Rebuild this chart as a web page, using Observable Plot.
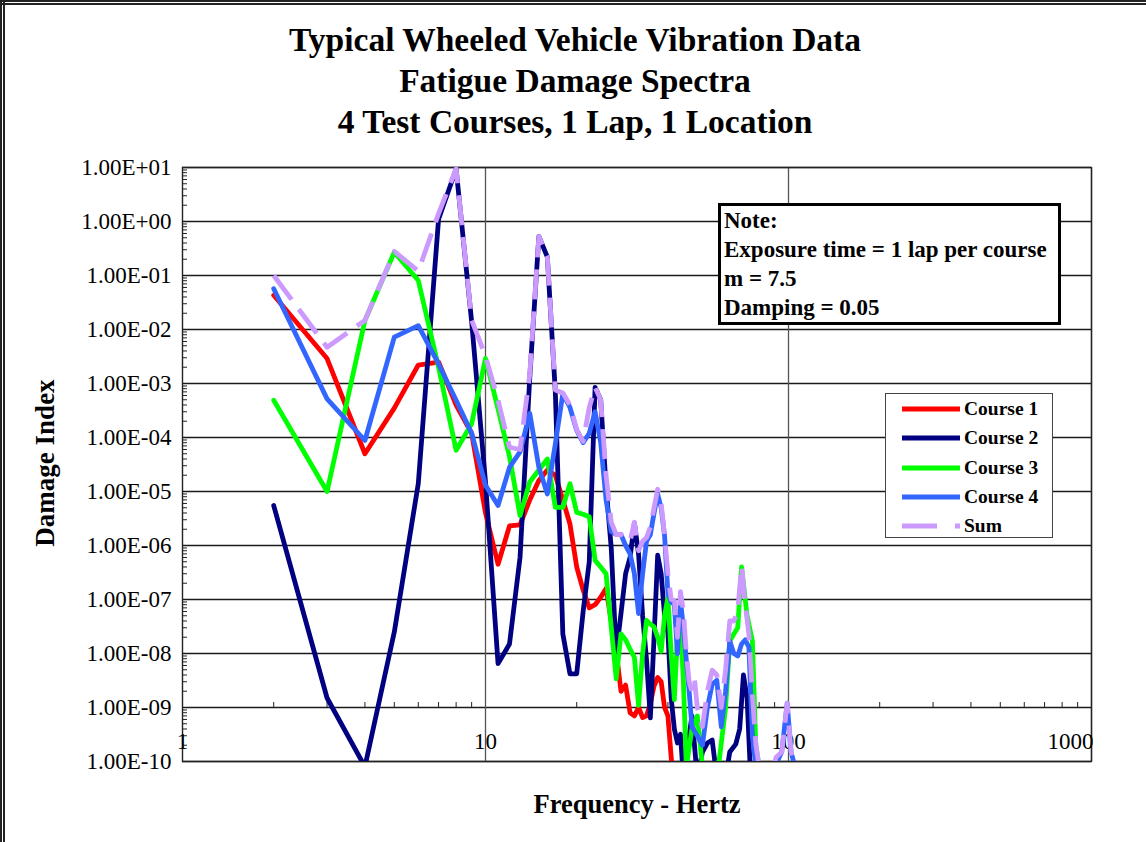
<!DOCTYPE html>
<html><head><meta charset="utf-8">
<script src="https://cdn.jsdelivr.net/npm/d3@7"></script>
<script src="https://cdn.jsdelivr.net/npm/@observablehq/plot@0.6"></script>
<style>
body{margin:0;background:#fff;}
#wrap{position:relative;width:1146px;height:842px;overflow:hidden;background:#fff;font-family:"Liberation Serif","Times New Roman",serif;color:#000;}
#bt{position:absolute;left:0;top:0;width:1146px;height:0;border-top:5px double #222;}
#bl{position:absolute;left:0;top:0;width:0;height:842px;border-left:5px double #222;}
#title{position:absolute;left:0;top:19px;width:1150px;text-align:center;font-weight:bold;font-size:33.5px;line-height:41px;}
#chart{position:absolute;left:0;top:150px;}
#chart svg{display:block;overflow:visible;}
#ylab{position:absolute;left:45px;top:463px;transform:translate(-50%,-50%) rotate(-90deg);font-weight:bold;font-size:27px;white-space:nowrap;}
#xlab{position:absolute;left:637px;top:804px;transform:translate(-50%,-50%);font-weight:bold;font-size:26.5px;white-space:nowrap;}
#note{position:absolute;left:718px;top:203px;width:334px;height:116px;border:3px solid #000;background:#fff;font-weight:bold;font-size:23px;line-height:29px;padding:0 0 0 3px;box-sizing:content-box;}
#legend{position:absolute;left:885px;top:393px;width:166px;height:143px;border:1px solid #444;background:#fff;}
.lrow{position:absolute;left:0;height:22px;display:flex;align-items:center;}
.lrow span{font-weight:bold;font-size:19.5px;margin-left:4px;}
</style></head><body>
<div id="wrap">
  <div id="bt"></div><div id="bl"></div>
  <div id="title"></div>
  <div id="chart"></div>
  <div id="ylab"></div>
  <div id="xlab"></div>
  <div id="note"></div>
  <div id="legend"></div>
</div>
<script>
// ---- text ----
const titleLines = ["Typical Wheeled Vehicle Vibration Data", "Fatigue Damage Spectra", "4 Test Courses, 1 Lap, 1 Location"];
const yTitle = "Damage Index";
const xTitle = "Frequency - Hertz";
const noteLines = ["Note:", "Exposure time = 1 lap per course", "m = 7.5", "Damping = 0.05"];

// ---- axes ----
const xTicks = [1, 10, 100];
const xTickLast = [1000];
const xGrid = [10, 100, 1000];
const yTicks = [1e-10, 1e-9, 1e-8, 1e-7, 1e-6, 1e-5, 1e-4, 1e-3, 1e-2, 1e-1, 1e0, 1e1];
const yTickLabels = ["1.00E-10", "1.00E-09", "1.00E-08", "1.00E-07", "1.00E-06", "1.00E-05", "1.00E-04", "1.00E-03", "1.00E-02", "1.00E-01", "1.00E+00", "1.00E+01"];

// ---- series ----
const seriesNames = ["Course 1", "Course 2", "Course 3", "Course 4", "Sum"];
const seriesColors = ["#ff0000", "#000080", "#00ff00", "#3366ff", "#cc99ff"];

const freq1 = [2,3,4,5,6,7,8,9,10,11,12,13,14,15,16,17,18,19,20,21,22,23,24,25,26,27,28,29,30,31,32,33,34,35,36,37,38,39,40,41,42];
const dmg1 = [4.3e-2,2.9e-3,5e-5,3.5e-4,2.2e-3,2.5e-3,4e-4,1.2e-4,4e-6,4.5e-7,2.3e-6,2.4e-6,7e-6,1.6e-5,2.5e-5,2e-5,7e-6,2.5e-6,4e-7,1.5e-7,7e-8,8e-8,1.1e-7,1.6e-7,4e-8,1.1e-8,2e-9,2.6e-9,8e-10,7e-10,1e-9,6.5e-10,7e-10,1.2e-9,2.5e-9,3.6e-9,3e-9,1e-9,7e-10,1.2e-10,3e-11];

const freq2 = [2,3,4,5,6,7,8,9,10,11,12,13,14,15,16,17,18,19,20,21,22,23,24,25,26,27,28,29,30,31,32,33,34,35,36,37,38,39,40,41,42,43,44,45,48,50,52,54,56,58,62,64,67,69,71,73,75];
const dmg2 = [5.5e-6,1.5e-9,8e-11,2.5e-8,1.4e-5,1.1,9.4,1.4e-2,1.5e-5,6.5e-9,1.5e-8,6e-7,1.3e-3,0.53,0.22,7e-4,2.3e-8,4.2e-9,4.2e-9,6e-8,5e-7,8.5e-4,5e-4,1.2e-5,9e-7,1e-8,5.5e-8,3e-7,6e-7,2.6e-6,7e-7,5e-8,7.6e-9,6.4e-10,2e-8,6.6e-7,3e-7,5e-8,2.4e-8,1.5e-9,4e-10,2.2e-10,3.2e-10,5e-11,7e-10,5e-11,1.5e-10,2.2e-10,2.5e-10,5e-11,5e-11,1.5e-10,2.1e-10,4e-10,4e-9,1.5e-9,5e-11];

const freq3 = [2,3,4,5,6,7,8,9,10,11,12,13,14,15,16,17,18,19,20,21,22,23,24,25,26,27,28,29,30,31,32,33,34,35,36,37,38,39,40,41,42,43,44,45,46,48,50,52,56,59,62,64,66,68,70,73,76,78,80];
const dmg3 = [4.9e-4,1e-5,1.47e-2,0.27,8.1e-2,2e-3,5.8e-5,1.8e-4,2.9e-3,3.4e-4,4.4e-5,3.6e-6,1.5e-5,2.5e-5,4e-5,5.1e-6,5.1e-6,1.4e-5,4.1e-6,3.8e-6,3.4e-6,5.3e-7,4e-7,3e-7,3.1e-8,3.4e-9,2.3e-8,1.8e-8,1.2e-8,8.5e-9,1.1e-9,1e-8,4.1e-8,3.5e-8,3.1e-8,2e-8,1.1e-8,5e-8,1.1e-7,1e-8,1.4e-9,2e-8,4e-8,3e-9,8e-11,4e-10,7e-10,8e-11,8e-11,1e-10,1e-9,1.7e-8,2.3e-8,3e-8,4e-7,5e-8,1.7e-8,2e-10,8e-11];

const freq4 = [2,3,4,5,6,7,8,9,10,11,12,13,14,15,16,17,18,19,20,21,22,23,24,25,26,27,28,29,30,31,32,33,34,35,36,37,38,39,40,41,42,43,44,45,46,47,48,50,52,54,56,58,60,62,64,66,68,70,72,74,76,78,90,95,99,102,105];
const dmg4 = [5.7e-2,5.2e-4,8.8e-5,7.2e-3,1.18e-2,2.3e-3,4.9e-4,1.2e-4,1.3e-5,5.5e-6,2.8e-5,5.4e-5,2.8e-4,2.8e-5,9e-6,7.6e-5,6.5e-4,3.6e-4,1.35e-4,8e-5,1.2e-4,3e-4,8e-5,7e-6,1.8e-6,1.6e-6,1.6e-6,1e-6,7e-7,3e-7,5.5e-8,3e-7,1.2e-6,1.6e-6,4e-6,9e-6,5e-6,1.5e-6,1.3e-7,9e-8,8e-8,1e-8,9.6e-8,3e-8,7.6e-9,2e-9,4.4e-10,3e-10,2e-10,1e-9,2.7e-9,3.2e-9,4.4e-10,2e-9,1.7e-8,1e-8,9e-9,1.5e-8,1.8e-8,1.3e-8,3e-10,8e-11,8e-11,1.5e-10,1.2e-9,1.5e-10,8e-11];

const freq5 = [2,3,4,5,6,7,8,9,10,11,12,13,14,15,16,17,18,19,20,21,22,23,24,25,26,27,28,29,30,31,32,33,34,35,36,37,38,39,40,41,42,43,44,45,46,47,48,49,50,52,54,56,58,60,62,64,66,68,70,72,74,76,78,80,85,91,95,99,102,105];
const dmg5 = [0.1,4.7e-3,1.47e-2,0.28,0.12,1.4,9.5,1.5e-2,3.2e-3,4.9e-4,6.6e-5,6e-5,1.5e-3,0.53,0.22,7.6e-4,6.7e-4,4e-4,1.4e-4,8.5e-5,3.6e-4,8.5e-4,5e-4,2e-5,2.7e-6,1.6e-6,1.6e-6,1.3e-6,1.2e-6,2.7e-6,8e-7,1.2e-6,1.4e-6,2.2e-6,5e-6,1.1e-5,6e-6,1.5e-6,3e-7,1e-7,9.6e-8,2e-8,1.4e-7,6e-8,1e-8,3e-9,2e-9,3.2e-9,1e-9,4.4e-10,2e-9,4.9e-9,4e-9,1e-9,5e-9,4e-8,4e-8,6e-8,4.2e-7,8e-8,2.3e-8,1.8e-9,2.1e-10,8e-11,3e-11,1.2e-10,1.5e-10,1.2e-9,1.5e-10,8e-11];

const freqs = [freq1, freq2, freq3, freq4, freq5];
const dmgs = [dmg1, dmg2, dmg3, dmg4, dmg5];
const sumDash = "30,12";

// ---- HTML text ----
document.getElementById("title").innerHTML = titleLines.join("<br>");
document.getElementById("ylab").textContent = yTitle;
document.getElementById("xlab").textContent = xTitle;
document.getElementById("note").innerHTML = noteLines.map(s => `<div>${s}</div>`).join("");

// legend
const legend = document.getElementById("legend");
seriesNames.forEach((name, i) => {
  const row = document.createElement("div");
  row.className = "lrow";
  row.style.top = (4 + i * 29.3) + "px";
  row.style.left = "16px";
  const dash = i === 4 ? `stroke-dasharray="35,18"` : "";
  row.innerHTML = `<svg width="58" height="10"><line x1="0" y1="5" x2="58" y2="5" stroke="${seriesColors[i]}" stroke-width="5" ${dash}/></svg><span>${name}</span>`;
  legend.appendChild(row);
});

// ---- plot ----
const yMinor = [];
for (let e = -10; e < 1; e++) for (let k = 2; k <= 9; k++) yMinor.push(k * Math.pow(10, e));
const xMinor = [];
for (let e = 0; e < 3; e++) for (let k = 2; k <= 9; k++) xMinor.push(k * Math.pow(10, e));

const lineMarks = seriesNames.map((name, i) =>
  Plot.line(freqs[i].map((f, j) => ({f, d: dmgs[i][j]})), {
    x: "f", y: "d",
    stroke: seriesColors[i],
    strokeWidth: 4.8,
    strokeDasharray: i === 4 ? sumDash : undefined,
    strokeLinejoin: "round",
    strokeLinecap: i === 4 ? "butt" : "round",
    clip: true
  })
);

const fontFamily = '"Liberation Serif","Times New Roman",serif';
const chart = Plot.plot({
  width: 1146,
  height: 692,
  marginTop: 17,
  marginBottom: 81,
  marginLeft: 182,
  marginRight: 55,
  style: {fontFamily, color: "#000", background: "transparent"},
  x: {type: "log", domain: [1, 1000]},
  y: {type: "log", domain: [1e-10, 10]},
  marks: [
    Plot.gridY(yTicks, {stroke: "#1a1a1a", strokeOpacity: 1, strokeWidth: 1.3}),
    Plot.gridX(xGrid, {stroke: "#555", strokeOpacity: 1, strokeWidth: 1.3}),
    Plot.frame({stroke: "#222", strokeWidth: 1.4}),
    Plot.axisY(yMinor, {tickSize: 5, dx: 5, tickFormat: () => "", label: null, stroke: "#222"}),
    Plot.axisX(xMinor, {tickSize: 5, dy: -59, tickFormat: () => "", label: null, stroke: "#222"}),
    Plot.axisY(yTicks, {tickSize: 0, tickPadding: 11, tickFormat: d => yTickLabels[yTicks.indexOf(d)], label: null, fontSize: 23, fill: "#000"}),
    Plot.axisX(xTicks, {tickSize: 0, tickPadding: 0, dy: -29, tickFormat: d => String(d), label: null, fontSize: 23, fill: "#000"}),
    Plot.axisX(xTickLast, {tickSize: 0, tickPadding: 0, dy: -29, dx: -21, tickFormat: d => String(d), label: null, fontSize: 23, fill: "#000"}),
    ...lineMarks
  ]
});
document.getElementById("chart").appendChild(chart);
</script>
</body></html>
